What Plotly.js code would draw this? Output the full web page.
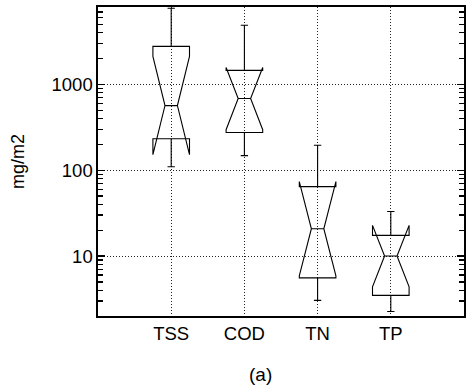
<!DOCTYPE html>
<html>
<head>
<meta charset="utf-8">
<script src="https://cdn.plot.ly/plotly-3.0.1.min.js"></script>
<style>html,body{margin:0;padding:0;background:#fff;}#chart{width:467px;height:387px;}</style>
</head>
<body>
<div id="chart"></div>
<script>
// Values in mg/m2 (log-scale chart)
var categories = ['TSS', 'COD', 'TN', 'TP'];
var upperWhisker = [7740, 4900, 196, 33];
var q3Values = [2780, 1460, 64.5, 17.4];
var medianValues = [567, 685, 20.8, 10.0];
var q1Values = [233, 275, 5.56, 3.48];
var lowerWhisker = [110, 148, 3.04, 2.26];
var notchUpper = [2120, 1580, 73.8, 22.8];
var yTickValues = [10, 100, 1000];
var yTickLabels = ['10', '100', '1000'];

var lg = function (v) { return Math.log10(v); };
var minorVals = [];
[1, 10, 100, 1000].forEach(function (d) {
  for (var k = 2; k <= 9; k++) minorVals.push(lg(k * d));
});

var trace = {
  type: 'box',
  x: categories,
  q1: q1Values.map(lg),
  median: medianValues.map(lg),
  q3: q3Values.map(lg),
  lowerfence: lowerWhisker.map(lg),
  upperfence: upperWhisker.map(lg),
  notchspan: notchUpper.map(function (v, i) { return lg(v) - lg(medianValues[i]); }),
  notched: true,
  notchwidth: 0.33,
  width: 0.5,
  whiskerwidth: 0.2,
  boxpoints: false,
  fillcolor: 'rgba(0,0,0,0)',
  line: {color: '#000', width: 1.1},
  hoverinfo: 'skip',
  showlegend: false
};

var font = {family: 'Liberation Sans, Arial, sans-serif', color: '#000'};

var layout = {
  width: 467, height: 387,
  margin: {l: 98, r: 3, t: 7, b: 71},
  paper_bgcolor: '#fff', plot_bgcolor: '#fff',
  font: font,
  xaxis: {
    type: 'category',
    range: [-1, 4],
    showgrid: true, gridcolor: '#222', gridwidth: 1, griddash: '1px,2px',
    showline: true, linecolor: '#000', linewidth: 1.6, mirror: true,
    ticks: '', zeroline: false,
    tickfont: {family: font.family, size: 18.5, color: '#000'}
  },
  yaxis: {
    range: [lg(2), lg(8000)],
    tickmode: 'array',
    tickvals: yTickValues.map(lg),
    ticktext: yTickLabels,
    ticks: 'inside', ticklen: 7, tickwidth: 1.3, tickcolor: '#000',
    minor: {tickmode: 'array', tickvals: minorVals, ticks: 'inside', ticklen: 5, tickwidth: 1.3, tickcolor: '#000', showgrid: false},
    showgrid: true, gridcolor: '#222', gridwidth: 1, griddash: '1px,2px',
    showline: true, linecolor: '#000', linewidth: 1.6, mirror: 'ticks',
    zeroline: false,
    tickfont: {family: font.family, size: 18.5, color: '#000'},
    title: {text: 'mg/m2', font: {family: font.family, size: 18, color: '#000'}, standoff: 22}
  },
  annotations: [{
    text: '(a)', xref: 'paper', yref: 'paper', x: 0.443, y: -0.19,
    xanchor: 'center', yanchor: 'middle', showarrow: false,
    font: {family: font.family, size: 19, color: '#000'}
  }]
};

Plotly.newPlot('chart', [trace], layout, {staticPlot: true, displayModeBar: false});
</script>
</body>
</html>
